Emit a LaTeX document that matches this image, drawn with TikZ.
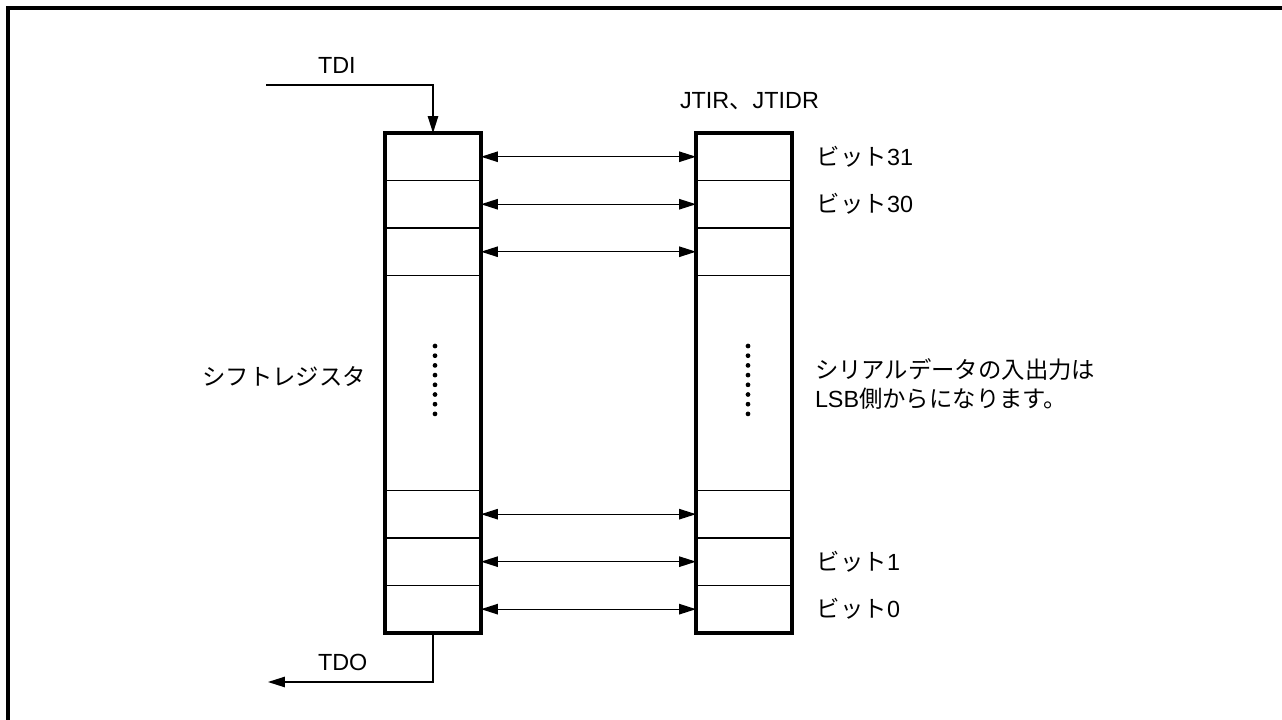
\documentclass[tikz,border=0pt]{standalone}
\usepackage{fontspec}
\setmainfont{Liberation Sans}
\newfontfamily\jp{Noto Sans CJK JP}
\usepackage{tikz}
\usetikzlibrary{positioning}
\usetikzlibrary{arrows.meta}
\usetikzlibrary{fit}

\tikzset{
    >={Triangle[length=3.4mm,width=2.1mm]},
    cell/.style={draw,line width=0.7pt,minimum width=1.92cm,minimum height=0.95cm,inner sep=0pt,outer sep=0pt},
    gapcell/.style={cell,minimum height=4.3cm},
    regframe/.style={draw,line width=2pt,inner sep=0pt,outer sep=0pt},
    sig/.style={->,line width=0.7pt},
    bus/.style={<->,line width=0.7pt},
    lbl/.style={inner sep=0pt,outer sep=0pt}
}

\begin{document}
\begin{tikzpicture}[x=0.02cm,y=-0.02cm,font=\fontsize{13.3pt}{16.4pt}\selectfont]
    \useasboundingbox (0,0) rectangle (1282,720);
    \draw[line width=2.3pt] (8,720) -- (8,8) -- (1282,8);

    % shift register
    \node[cell] (s31) at (433,156.75) {};
    \node[cell,below=0pt of s31] (s30) {};
    \node[cell,below=0pt of s30] (s29) {};
    \node[gapcell,below=0pt of s29] (sdots) {};
    \node[cell,below=0pt of sdots] (s2) {};
    \node[cell,below=0pt of s2] (s1) {};
    \node[cell,below=0pt of s1] (s0) {};
    \node[regframe,fit=(s31)(s0)] (sr) {};

    % JTIR / JTIDR
    \node[cell] (j31) at (744,156.75) {};
    \node[cell,below=0pt of j31] (j30) {};
    \node[cell,below=0pt of j30] (j29) {};
    \node[gapcell,below=0pt of j29] (jdots) {};
    \node[cell,below=0pt of jdots] (j2) {};
    \node[cell,below=0pt of j2] (j1) {};
    \node[cell,below=0pt of j1] (j0) {};
    \node[regframe,fit=(j31)(j0)] (jr) {};

    \foreach \k in {0,...,7}{
        \fill (435,{346+9.7*\k}) circle (1.35pt);
        \fill (748,{346+9.7*\k}) circle (1.35pt);
    }

    \foreach \b in {31,30,29,2,1,0}
        \draw[bus] (s\b) -- (j\b);

    % TDI / TDO
    \coordinate (tdiin) at (266,85);
    \coordinate (tdoout) at (268,682);
    \draw[sig] (tdiin) -| (sr.north);
    \draw[sig] (sr.south) |- (tdoout);
    \node[lbl,anchor=west] (tdi) at (318,65) {TDI};
    \node[lbl,anchor=west] (tdo) at (318,662) {TDO};

    \node[lbl,anchor=east] (srname) at (366,376) {\jp シフトレジスタ};
    \node[lbl,anchor=west] (jrname) at (680,101) {JTIR{\jp 、}JTIDR};
    \node[lbl,right=0.5cm of j31] (b31) {{\jp ビット}31};
    \node[lbl,right=0.5cm of j30] (b30) {{\jp ビット}30};
    \node[lbl,right=0.5cm of j1] (b1) {{\jp ビット}1};
    \node[lbl,right=0.5cm of j0] (b0) {{\jp ビット}0};
    \node[lbl,anchor=west,align=left] (note) at (815,384)
        {{\jp シリアルデータの入出力は}\\LSB{\jp 側からになります。}};
\end{tikzpicture}
\end{document}
